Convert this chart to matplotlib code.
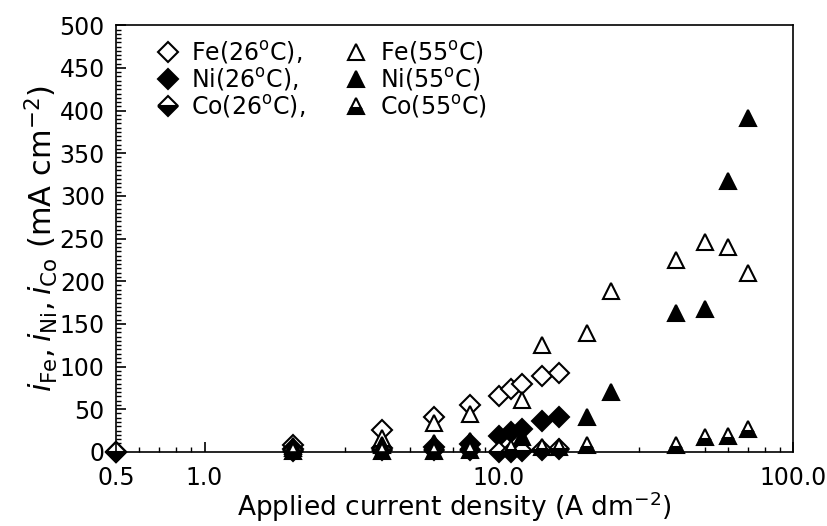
import numpy as np
import matplotlib.pyplot as plt
from matplotlib.ticker import FixedLocator, MultipleLocator, NullFormatter

# applied current density (A dm^-2) and partial current densities (mA cm^-2)
fe26_x = [0.5, 2, 4, 6, 8, 10, 11, 12, 14, 16]
fe26_y = [0, 8, 26, 41, 55, 66, 74, 80, 89, 92]
ni26_x = [0.5, 2, 4, 6, 8, 10, 11, 12, 14, 16]
ni26_y = [0, 3, 5, 6, 9, 19, 23, 27, 36, 41]
co26_x = [0.5, 2, 4, 6, 8, 10, 11, 12, 14, 16]
co26_y = [0, 1, 2, 2, 2, 0, 0, 1, 2, 3]

fe55_x = [2, 4, 6, 8, 12, 14, 20, 24, 40, 50, 60, 70]
fe55_y = [4, 16, 34, 44, 61, 125, 139, 188, 225, 246, 240, 210]
ni55_x = [2, 4, 6, 8, 12, 20, 24, 40, 50, 60, 70]
ni55_y = [7, 8, 10, 13, 17, 41, 70, 163, 168, 318, 391]
co55_x = [2, 4, 6, 8, 11, 14, 16, 20, 40, 50, 60, 70]
co55_y = [1, 1, 1, 2, 5, 6, 6, 8, 8, 17, 18, 27]

xtick_vals = [0.5, 1, 10, 100]
xtick_labels = ['0.5', '1.0', '10.0', '100.0']

plt.rcParams['font.family'] = 'DejaVu Sans'

fig = plt.figure(figsize=(8.28, 5.26), dpi=100)
ax = fig.add_axes([0.140, 0.141, 0.818, 0.811])

ms_d = 10
ms_t = 11.5
lw = 1.5
common = dict(linestyle='none', color='black', markeredgecolor='black',
              markeredgewidth=lw, clip_on=False)

h_fe26, = ax.plot(fe26_x, fe26_y, marker='D', markersize=ms_d,
                  markerfacecolor='white', label='Fe(26$^\\mathrm{o}$C),', **common)
h_ni26, = ax.plot(ni26_x, ni26_y, marker='D', markersize=ms_d,
                  markerfacecolor='black', label='Ni(26$^\\mathrm{o}$C),', **common)
h_co26, = ax.plot(co26_x, co26_y, marker='D', markersize=ms_d,
                  fillstyle='bottom', markerfacecolor='black',
                  markerfacecoloralt='white', label='Co(26$^\\mathrm{o}$C),', **common)
h_fe55, = ax.plot(fe55_x, fe55_y, marker='^', markersize=ms_t,
                  markerfacecolor='white', label='Fe(55$^\\mathrm{o}$C)', **common)
h_ni55, = ax.plot(ni55_x, ni55_y, marker='^', markersize=ms_t,
                  markerfacecolor='black', label='Ni(55$^\\mathrm{o}$C)', **common)
h_co55, = ax.plot(co55_x, co55_y, marker='^', markersize=ms_t,
                  fillstyle='bottom', markerfacecolor='black',
                  markerfacecoloralt='white', label='Co(55$^\\mathrm{o}$C)', **common)

ax.set_xscale('log')
ax.set_xlim(0.5, 100)
ax.set_ylim(0, 500)
ax.xaxis.set_major_locator(FixedLocator(xtick_vals))
ax.set_xticklabels(xtick_labels)
minors = [v * d for d in (0.1, 1, 10) for v in range(2, 10)]
ax.xaxis.set_minor_locator(FixedLocator([m for m in minors if 0.5 < m < 100]))
ax.xaxis.set_minor_formatter(NullFormatter())
ax.yaxis.set_major_locator(MultipleLocator(50))
ax.yaxis.set_minor_locator(MultipleLocator(5))

ax.tick_params(which='major', direction='in', length=7, width=1.2, labelsize=17,
               top=False, right=False)
ax.tick_params(which='minor', direction='in', length=3.5, width=1, top=False, right=False)
ax.tick_params(axis='x', pad=10)
ax.tick_params(axis='y', pad=8)
for s in ax.spines.values():
    s.set_linewidth(1.2)

ax.set_xlabel('Applied current density (A dm$^{-2}$)', fontsize=19, labelpad=0)
ax.set_ylabel('$i_{\\mathrm{Fe}}, i_{\\mathrm{Ni}}, i_{\\mathrm{Co}}$ (mA cm$^{-2}$)',
              fontsize=22, labelpad=0)

ax.legend(handles=[h_fe26, h_ni26, h_co26, h_fe55, h_ni55, h_co55], ncol=2,
          loc='upper left', bbox_to_anchor=(0.04, 1.0), frameon=False,
          fontsize=17, handlelength=0.9, handletextpad=0.55, columnspacing=1.7,
          labelspacing=0.0, borderaxespad=0.2)

fig.savefig('out.png', dpi=100)
